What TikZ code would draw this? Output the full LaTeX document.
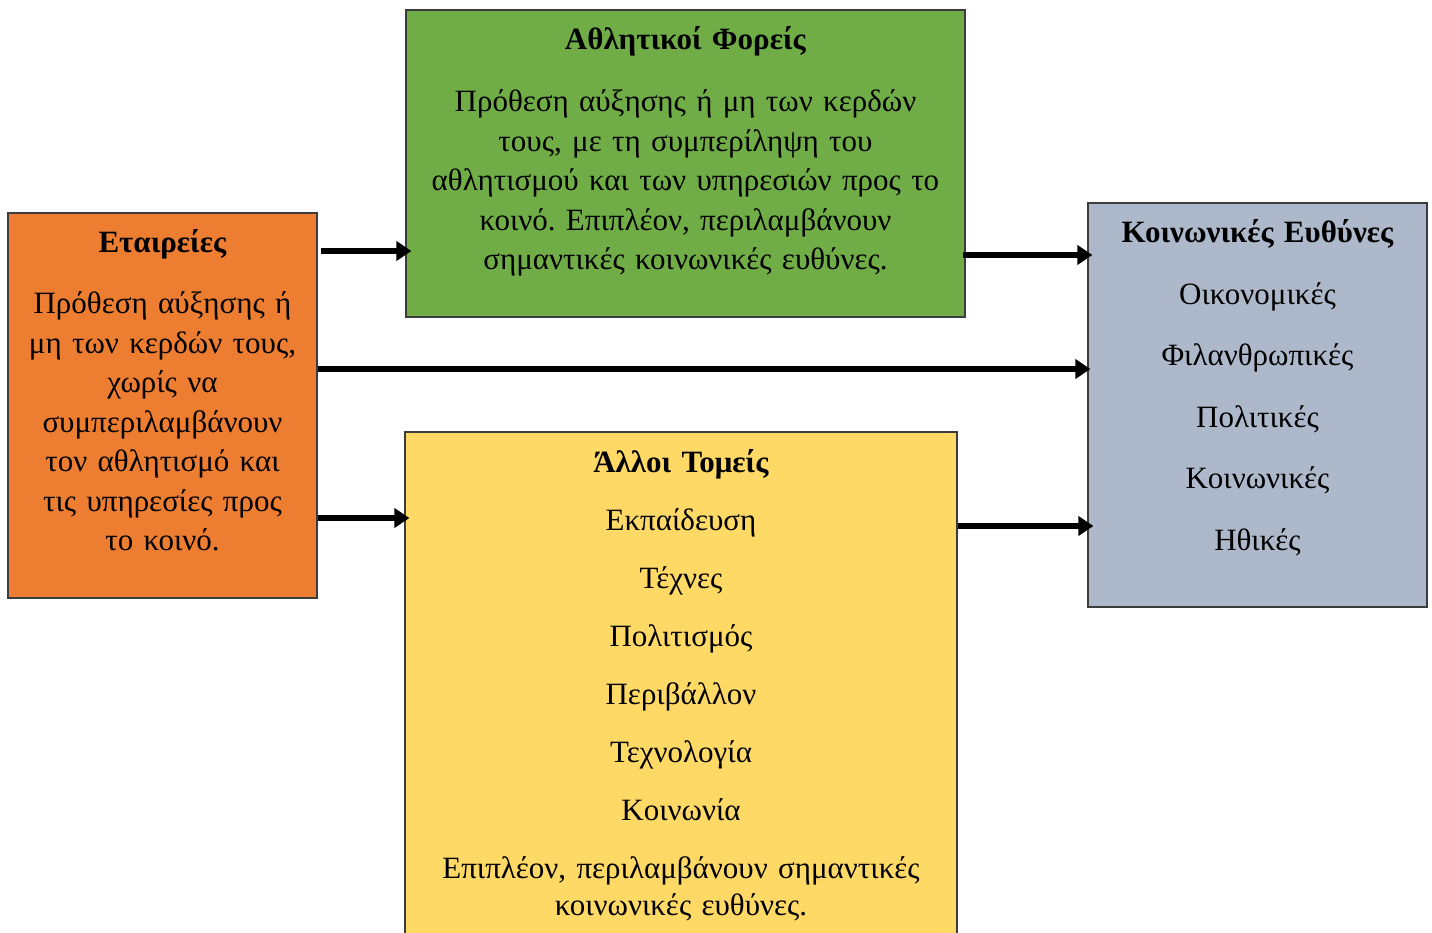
\documentclass[tikz,border=0pt]{standalone}
\usepackage{fontspec}
\setmainfont{Liberation Serif}
\frenchspacing
\usetikzlibrary{arrows.meta, positioning, calc}
\definecolor{myorange}{RGB}{237,125,49}
\definecolor{mygreen}{RGB}{112,173,71}
\definecolor{mygrey}{RGB}{173,185,202}
\definecolor{myyellow}{RGB}{255,217,102}
\definecolor{mydark}{RGB}{60,60,60}
\tikzset{
  panel/.style={rectangle, draw=mydark, line width=1.2pt, inner sep=0pt},
  paneltext/.style={align=center, anchor=base, inner sep=0pt,
    font=\fontsize{31}{39.5}\selectfont},
  arrow/.style={-{Triangle[length=15pt, width=19pt]}, line width=6.5pt, color=black}
}

\begin{document}
\begin{tikzpicture}[x=1pt, y=-1pt]
  \clip (0,0) rectangle (1432,933);
  \fill[white] (0,0) rectangle (1432,933);

  % Boxes
  \node[panel, fill=myorange, minimum width=309pt, minimum height=385pt] (firms) at (162.5,405.5) {};
  \node[panel, fill=mygreen, minimum width=559pt, minimum height=307pt] (sport) at (685.5,163.5) {};
  \node[panel, fill=mygrey, minimum width=339pt, minimum height=404pt] (resp) at (1257.5,405) {};
  \node[panel, fill=myyellow, minimum width=552pt, minimum height=540pt] (other) at (681,702) {};

  % Texts
  \node[paneltext, text width=320pt] (firmstxt) at (firms.north |- 0,253)
    {\textbf{Εταιρείες}\\[21.5pt]
     Πρόθεση αύξησης ή\\ μη των κερδών τους,\\ χωρίς να\\ συμπεριλαμβάνουν\\
     τον αθλητισμό και\\ τις υπηρεσίες προς\\ το κοινό.};
  \node[paneltext, text width=620pt] (sporttxt) at (sport.north |- 0,50)
    {\textbf{Αθλητικοί Φορείς}\\[22.5pt]
     Πρόθεση αύξησης ή μη των κερδών\\ τους, με τη συμπερίληψη του\\
     αθλητισμού και των υπηρεσιών προς το\\ κοινό. Επιπλέον, περιλαμβάνουν\\
     σημαντικές κοινωνικές ευθύνες.};
  \node[paneltext, text width=340pt] (resptxt) at (resp.north |- 0,243)
    {\textbf{Κοινωνικές Ευθύνες}\\[22pt]
     Οικονομικές\\[22pt] Φιλανθρωπικές\\[22pt] Πολιτικές\\[22pt]
     Κοινωνικές\\[22pt] Ηθικές};
  \node[paneltext, text width=600pt] (othertxt) at (other.north |- 0,472)
    {\textbf{Άλλοι Τομείς}\\[18.5pt]
     Εκπαίδευση\\[18.5pt] Τέχνες\\[18.5pt] Πολιτισμός\\[18.5pt] Περιβάλλον\\[18.5pt]
     Τεχνολογία\\[18.5pt] Κοινωνία\\[18.5pt]
     Επιπλέον, περιλαμβάνουν σημαντικές\\[-2pt] κοινωνικές ευθύνες.};

  % Arrows
  \draw[arrow] ($(firms.east |- 0,251)+(3,0)$) -- ($(sport.west |- 0,251)+(6,0)$);
  \draw[arrow] ($(sport.east |- 0,255)+(-3,0)$) -- ($(resp.west |- 0,255)+(5,0)$);
  \draw[arrow] (firms.east |- 0,369) -- ($(resp.west |- 0,369)+(3,0)$);
  \draw[arrow] (firms.east |- 0,518) -- ($(other.west |- 0,518)+(5,0)$);
  \draw[arrow] (other.east |- 0,526) -- ($(resp.west |- 0,526)+(6,0)$);
\end{tikzpicture}
\end{document}
